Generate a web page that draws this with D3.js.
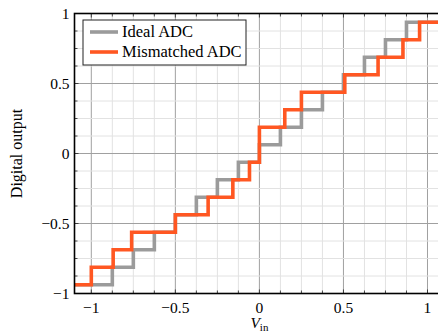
<!DOCTYPE html>
<meta charset="utf-8">
<script src="https://d3js.org/d3.v7.min.js"></script>
<style>
  body { margin: 0; background: #fff; }
  text { font-family: "Liberation Serif", "DejaVu Serif", serif; }
</style>
<div id="chart"></div>
<script>
  // output codes of the 4-bit quantiser
  const levels = [-0.9375, -0.8125, -0.6875, -0.5625, -0.4375, -0.3125, -0.1875, -0.0625,
                  0.0625, 0.1875, 0.3125, 0.4375, 0.5625, 0.6875, 0.8125, 0.9375];
  // input where the output moves from levels[i] to levels[i+1]
  const idealThresholds = [-0.875, -0.75, -0.625, -0.5, -0.375, -0.25, -0.125, 0,
                           0.125, 0.25, 0.375, 0.5, 0.625, 0.75, 0.875];
  const mismatchThresholds = [-1.0, -0.87, -0.76, -0.5, -0.305, -0.158, -0.059, 0,
                              0, 0.151, 0.25, 0.508, 0.706, 0.854, 0.953];
  const xTicks = [-1, -0.5, 0, 0.5, 1];
  const yTicks = [-1, -0.5, 0, 0.5, 1];
  const seriesNames = ["Ideal ADC", "Mismatched ADC"];
  const seriesColors = ["#9b9b9b", "#ff5722"];

  const width = 438, height = 335;
  const margin = {left: 74.5, top: 13.5, bottom: 41.5};
  const xDomain = [-1.1, 1.1];

  const x = d3.scaleLinear().domain(xDomain).range([margin.left, 444.3]);
  const y = d3.scaleLinear().domain([-1, 1]).range([height - margin.bottom, margin.top]);

  const svg = d3.select("#chart").append("svg")
    .attr("width", width)
    .attr("height", height);

  svg.append("clipPath").attr("id", "plot")
    .append("rect")
    .attr("x", x(xDomain[0])).attr("y", y(1))
    .attr("width", x(xDomain[1]) - x(xDomain[0]))
    .attr("height", y(-1) - y(1));

  const minorX = d3.range(-8, 9).map(d => d / 8);
  const minorY = d3.range(-8, 9).map(d => d / 8);

  // grid
  const grid = svg.append("g");
  grid.selectAll(".mx").data(minorX).enter().append("line")
    .attr("x1", d => x(d)).attr("x2", d => x(d))
    .attr("y1", y(1)).attr("y2", y(-1))
    .attr("stroke", d => xTicks.includes(d) ? "#a0a0a0" : "#e2e2e2")
    .attr("stroke-width", 1);
  grid.selectAll(".my").data(minorY).enter().append("line")
    .attr("x1", x(xDomain[0])).attr("x2", x(xDomain[1]))
    .attr("y1", d => y(d)).attr("y2", d => y(d))
    .attr("stroke", d => yTicks.includes(d) ? "#a0a0a0" : "#e2e2e2")
    .attr("stroke-width", 1);

  function steps(th) {
    const pts = [[xDomain[0], levels[0]]];
    th.forEach((t, i) => pts.push([t, levels[i + 1]]));
    pts.push([xDomain[1], levels[levels.length - 1]]);
    return pts;
  }

  const line = d3.line()
    .x(d => x(d[0]))
    .y(d => y(d[1]))
    .curve(d3.curveStepAfter);

  const plot = svg.append("g").attr("clip-path", "url(#plot)");
  [idealThresholds, mismatchThresholds].forEach((th, i) => {
    plot.append("path")
      .attr("d", line(steps(th)))
      .attr("fill", "none")
      .attr("stroke", seriesColors[i])
      .attr("stroke-width", 3.6)
      .attr("stroke-linejoin", "miter");
  });

  // ticks, inward on every side
  const ticks = svg.append("g").attr("stroke", "#222").attr("stroke-width", 0.8);
  minorX.forEach(d => {
    const len = xTicks.includes(d) ? 4 : 3;
    ticks.append("line").attr("x1", x(d)).attr("x2", x(d))
      .attr("y1", y(-1)).attr("y2", y(-1) - len);
    ticks.append("line").attr("x1", x(d)).attr("x2", x(d))
      .attr("y1", y(1)).attr("y2", y(1) + len);
  });
  minorY.forEach(d => {
    const len = yTicks.includes(d) ? 4 : 3;
    ticks.append("line").attr("x1", x(xDomain[0])).attr("x2", x(xDomain[0]) + len)
      .attr("y1", y(d)).attr("y2", y(d));
  });

  // frame
  svg.append("rect")
    .attr("x", x(xDomain[0])).attr("y", y(1))
    .attr("width", x(xDomain[1]) - x(xDomain[0]))
    .attr("height", y(-1) - y(1))
    .attr("fill", "none")
    .attr("stroke", "#000")
    .attr("stroke-width", 1.6);

  const fmt = d => d3.format("")(d);
  svg.selectAll(".xl").data(xTicks).enter().append("text")
    .attr("x", d => x(d)).attr("y", y(-1) + 19)
    .attr("text-anchor", "middle")
    .attr("font-size", 15.5)
    .text(fmt);
  svg.selectAll(".yl").data(yTicks).enter().append("text")
    .attr("x", x(xDomain[0]) - 5).attr("y", d => y(d) + 5)
    .attr("text-anchor", "end")
    .attr("font-size", 15.5)
    .text(fmt);

  // axis titles
  const xt = svg.append("text")
    .attr("x", x(0)).attr("y", 328)
    .attr("text-anchor", "middle")
    .attr("font-size", 15.5);
  xt.append("tspan").attr("font-style", "italic").text("V");
  xt.append("tspan").attr("font-size", 11).attr("dy", 3).text("in");

  svg.append("text")
    .attr("transform", `translate(22,${y(0)}) rotate(-90)`)
    .attr("text-anchor", "middle")
    .attr("font-size", 16)
    .text("Digital output");

  // legend
  const lg = svg.append("g").attr("transform", "translate(83,20)");
  lg.append("rect")
    .attr("width", 163).attr("height", 45)
    .attr("fill", "#fff")
    .attr("stroke", "#222")
    .attr("stroke-width", 1);
  seriesNames.forEach((name, i) => {
    lg.append("line")
      .attr("x1", 7).attr("x2", 35)
      .attr("y1", 12 + i * 20).attr("y2", 12 + i * 20)
      .attr("stroke", seriesColors[i])
      .attr("stroke-width", 3.6);
    lg.append("text")
      .attr("x", 39).attr("y", 17 + i * 20)
      .attr("font-size", 16.5)
      .text(name);
  });
</script>
